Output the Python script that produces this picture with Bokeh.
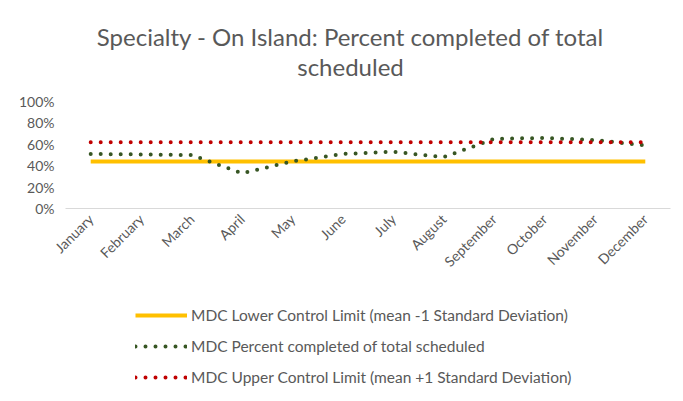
from math import pi
from bokeh.plotting import figure
from bokeh.layouts import column
from bokeh.models import (FactorRange, Range1d, NumeralTickFormatter, Legend, LegendItem,
                          FixedTicker, Label)
from bokeh.embed import file_html
from bokeh.resources import INLINE

months = ["January", "February", "March", "April", "May", "June", "July",
          "August", "September", "October", "November", "December"]
lower_limit = [0.44] * 12
upper_limit = [0.62] * 12
percent_completed = [0.51, 0.505, 0.50, 0.33, 0.44, 0.51, 0.53, 0.48, 0.65, 0.66, 0.64, 0.59]
y_ticks = [0, 0.2, 0.4, 0.6, 0.8, 1.0]
title_lines = ["Specialty - On Island: Percent completed of total", "scheduled"]
legend_labels = ["MDC Lower Control Limit (mean -1 Standard Deviation)",
                 "MDC Percent completed of total scheduled",
                 "MDC Upper Control Limit (mean +1 Standard Deviation)"]

FONT = "Lato"
GREY = "#595959"
LOW_STYLE = dict(line_color="#FFC000", line_width=4)
PCT_STYLE = dict(line_color="#375623", line_width=4, line_dash="0 10", line_cap="round")
UP_STYLE = dict(line_color="#C00000", line_width=4, line_dash="0 10", line_cap="round")

# Title strip
tf = figure(width=675, height=88, x_range=Range1d(0, 1), y_range=Range1d(0, 1),
            output_backend="svg", toolbar_location=None, x_axis_location=None,
            y_axis_location=None, min_border=0, outline_line_color=None)
tf.grid.grid_line_color = None
for i, line in enumerate(title_lines):
    tf.add_layout(Label(x=285, y=52 - 30 * i, x_units="screen", y_units="screen", text=line,
                        text_align="center", text_baseline="middle", text_font=FONT,
                        text_font_size="24px", text_color=GREY))

# Main chart
p = figure(frame_width=605, frame_height=107, x_range=FactorRange(*months, range_padding=0),
           y_range=Range1d(0, 1), output_backend="svg", toolbar_location=None,
           min_border_left=65, min_border_right=5, min_border_top=13, min_border_bottom=84)

p.line(months, lower_limit, **LOW_STYLE)
p.line(months, percent_completed, **PCT_STYLE)
p.line(months, upper_limit, **UP_STYLE)

p.xgrid.grid_line_color = None
p.ygrid.grid_line_color = None
p.outline_line_color = None

p.yaxis.ticker = FixedTicker(ticks=y_ticks)
p.yaxis.formatter = NumeralTickFormatter(format="0%")
p.yaxis.axis_line_color = None
p.yaxis.major_tick_line_color = None
p.yaxis.major_tick_out = 0
p.yaxis.minor_tick_line_color = None
p.yaxis.major_label_standoff = 11
p.yaxis.major_label_text_font = FONT
p.yaxis.major_label_text_font_size = "14px"
p.yaxis.major_label_text_color = GREY

p.xaxis.axis_line_color = "#d9d9d9"
p.xaxis.major_tick_line_color = None
p.xaxis.major_tick_out = 0
p.xaxis.minor_tick_line_color = None
p.xaxis.major_label_standoff = 8
p.xaxis.major_label_orientation = pi / 4
p.xaxis.major_label_text_font = FONT
p.xaxis.major_label_text_font_size = "14px"
p.xaxis.major_label_text_color = GREY

# Legend strip below the chart
lg = figure(width=675, height=96, x_range=FactorRange(*months), y_range=Range1d(0, 1),
            output_backend="svg", toolbar_location=None, x_axis_location=None,
            y_axis_location=None, min_border=0, outline_line_color=None)
lg.grid.grid_line_color = None
g_low = lg.line(months, lower_limit, visible=False, **LOW_STYLE)
g_pct = lg.line(months, percent_completed, visible=False, **PCT_STYLE)
g_up = lg.line(months, upper_limit, visible=False, **UP_STYLE)

legend = Legend(items=[
    LegendItem(label=legend_labels[0], renderers=[g_low]),
    LegendItem(label=legend_labels[1], renderers=[g_pct]),
    LegendItem(label=legend_labels[2], renderers=[g_up]),
], location=(70, 1), border_line_color=None, background_fill_alpha=0,
   inactive_fill_alpha=0,
   label_text_font=FONT, label_text_font_size="15.5px", label_text_color=GREY,
   glyph_width=52, glyph_height=20, label_height=20, spacing=11, padding=0, margin=0,
   label_standoff=4)
lg.add_layout(legend, "center")

layout = column(tf, p, lg, spacing=0)
open("out.html", "w").write(file_html(layout, INLINE))
